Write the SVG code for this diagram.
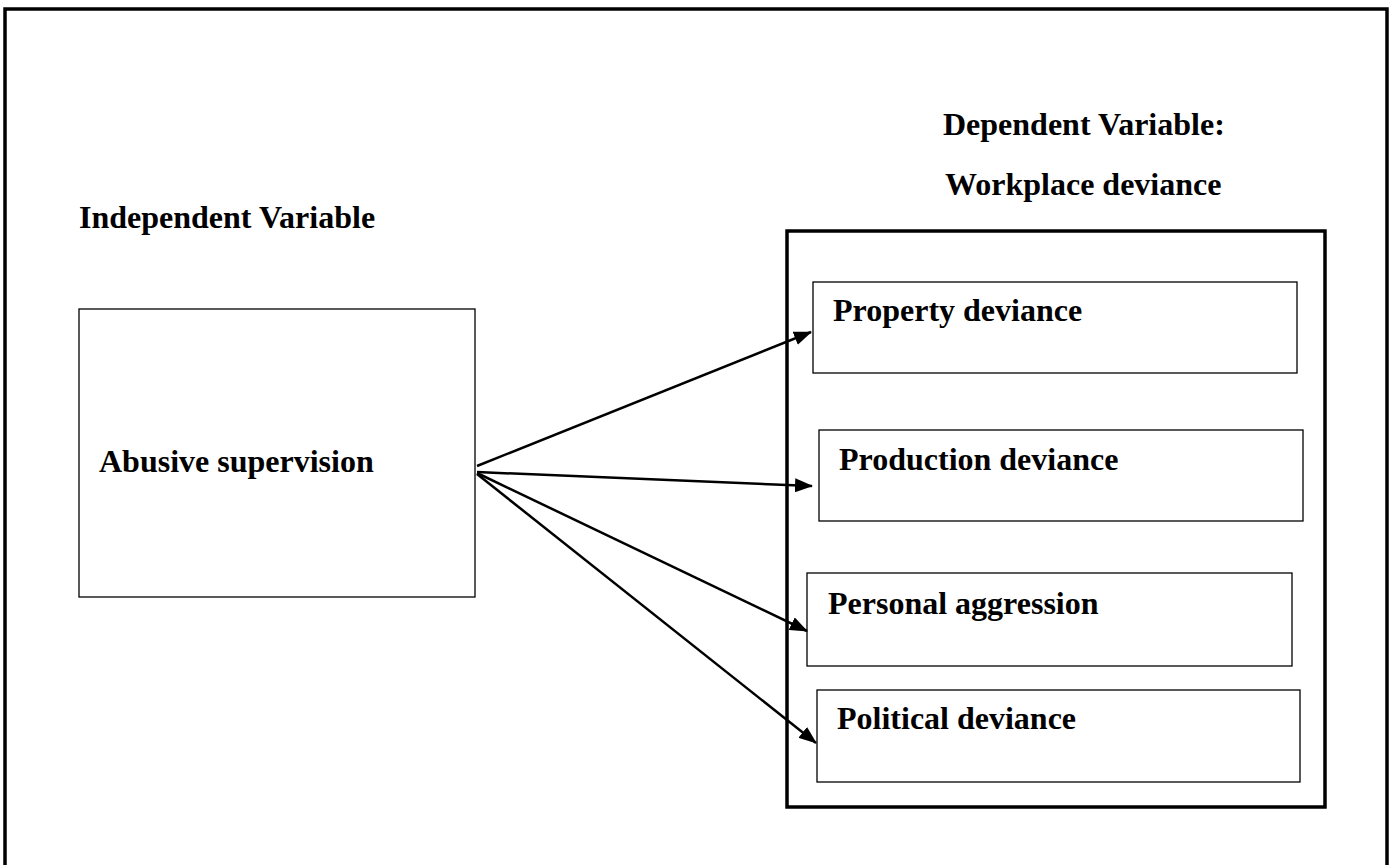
<svg xmlns="http://www.w3.org/2000/svg" width="1395" height="865" viewBox="0 0 1395 865">
<style>
.t{font-family:"Liberation Serif","Times New Roman",serif;font-weight:bold;font-size:32px;fill:#000}
.box{fill:#fff;stroke:#000;stroke-width:1.3}
.thick{fill:none;stroke:#000;stroke-width:3.5}
.c{stroke:#000;stroke-width:2.5;fill:none}
</style>
<defs>
<marker id="ah" markerWidth="18" markerHeight="14" refX="17" refY="7" orient="auto" markerUnits="userSpaceOnUse">
<path d="M0,0 L18,7 L0,14 Z" fill="#000"/>
</marker>
</defs>
<rect x="0" y="0" width="1395" height="865" fill="#fff"/>
<rect id="frame" x="5" y="9" width="1382" height="900" class="thick"/>
<g id="headings">
<text class="t" x="79" y="228">Independent Variable</text>
<text class="t" x="943" y="135">Dependent Variable:</text>
<text class="t" x="945" y="195">Workplace deviance</text>
</g>
<g id="workplace-deviance">
<rect x="787" y="231" width="538" height="576" class="thick"/>
</g>
<g id="abusive-supervision">
<rect x="79" y="309" width="396" height="288" class="box"/>
<text class="t" x="99" y="472">Abusive supervision</text>
</g>
<g id="property-deviance">
<rect x="813" y="282" width="484" height="91" class="box"/>
<text class="t" x="833" y="321">Property deviance</text>
</g>
<g id="production-deviance">
<rect x="819" y="430" width="484" height="91" class="box"/>
<text class="t" x="839" y="470">Production deviance</text>
</g>
<g id="personal-aggression">
<rect x="807" y="573" width="485" height="93" class="box"/>
<text class="t" x="828" y="614">Personal aggression</text>
</g>
<g id="political-deviance">
<rect x="817" y="690" width="483" height="92" class="box"/>
<text class="t" x="837" y="729">Political deviance</text>
</g>
<g id="connectors">
<line x1="477" y1="466" x2="811" y2="332" class="c" marker-end="url(#ah)"/>
<line x1="477" y1="472" x2="812" y2="486" class="c" marker-end="url(#ah)"/>
<line x1="477" y1="473" x2="807" y2="631" class="c" marker-end="url(#ah)"/>
<line x1="477" y1="474" x2="816" y2="743" class="c" marker-end="url(#ah)"/>
</g>
</svg>
